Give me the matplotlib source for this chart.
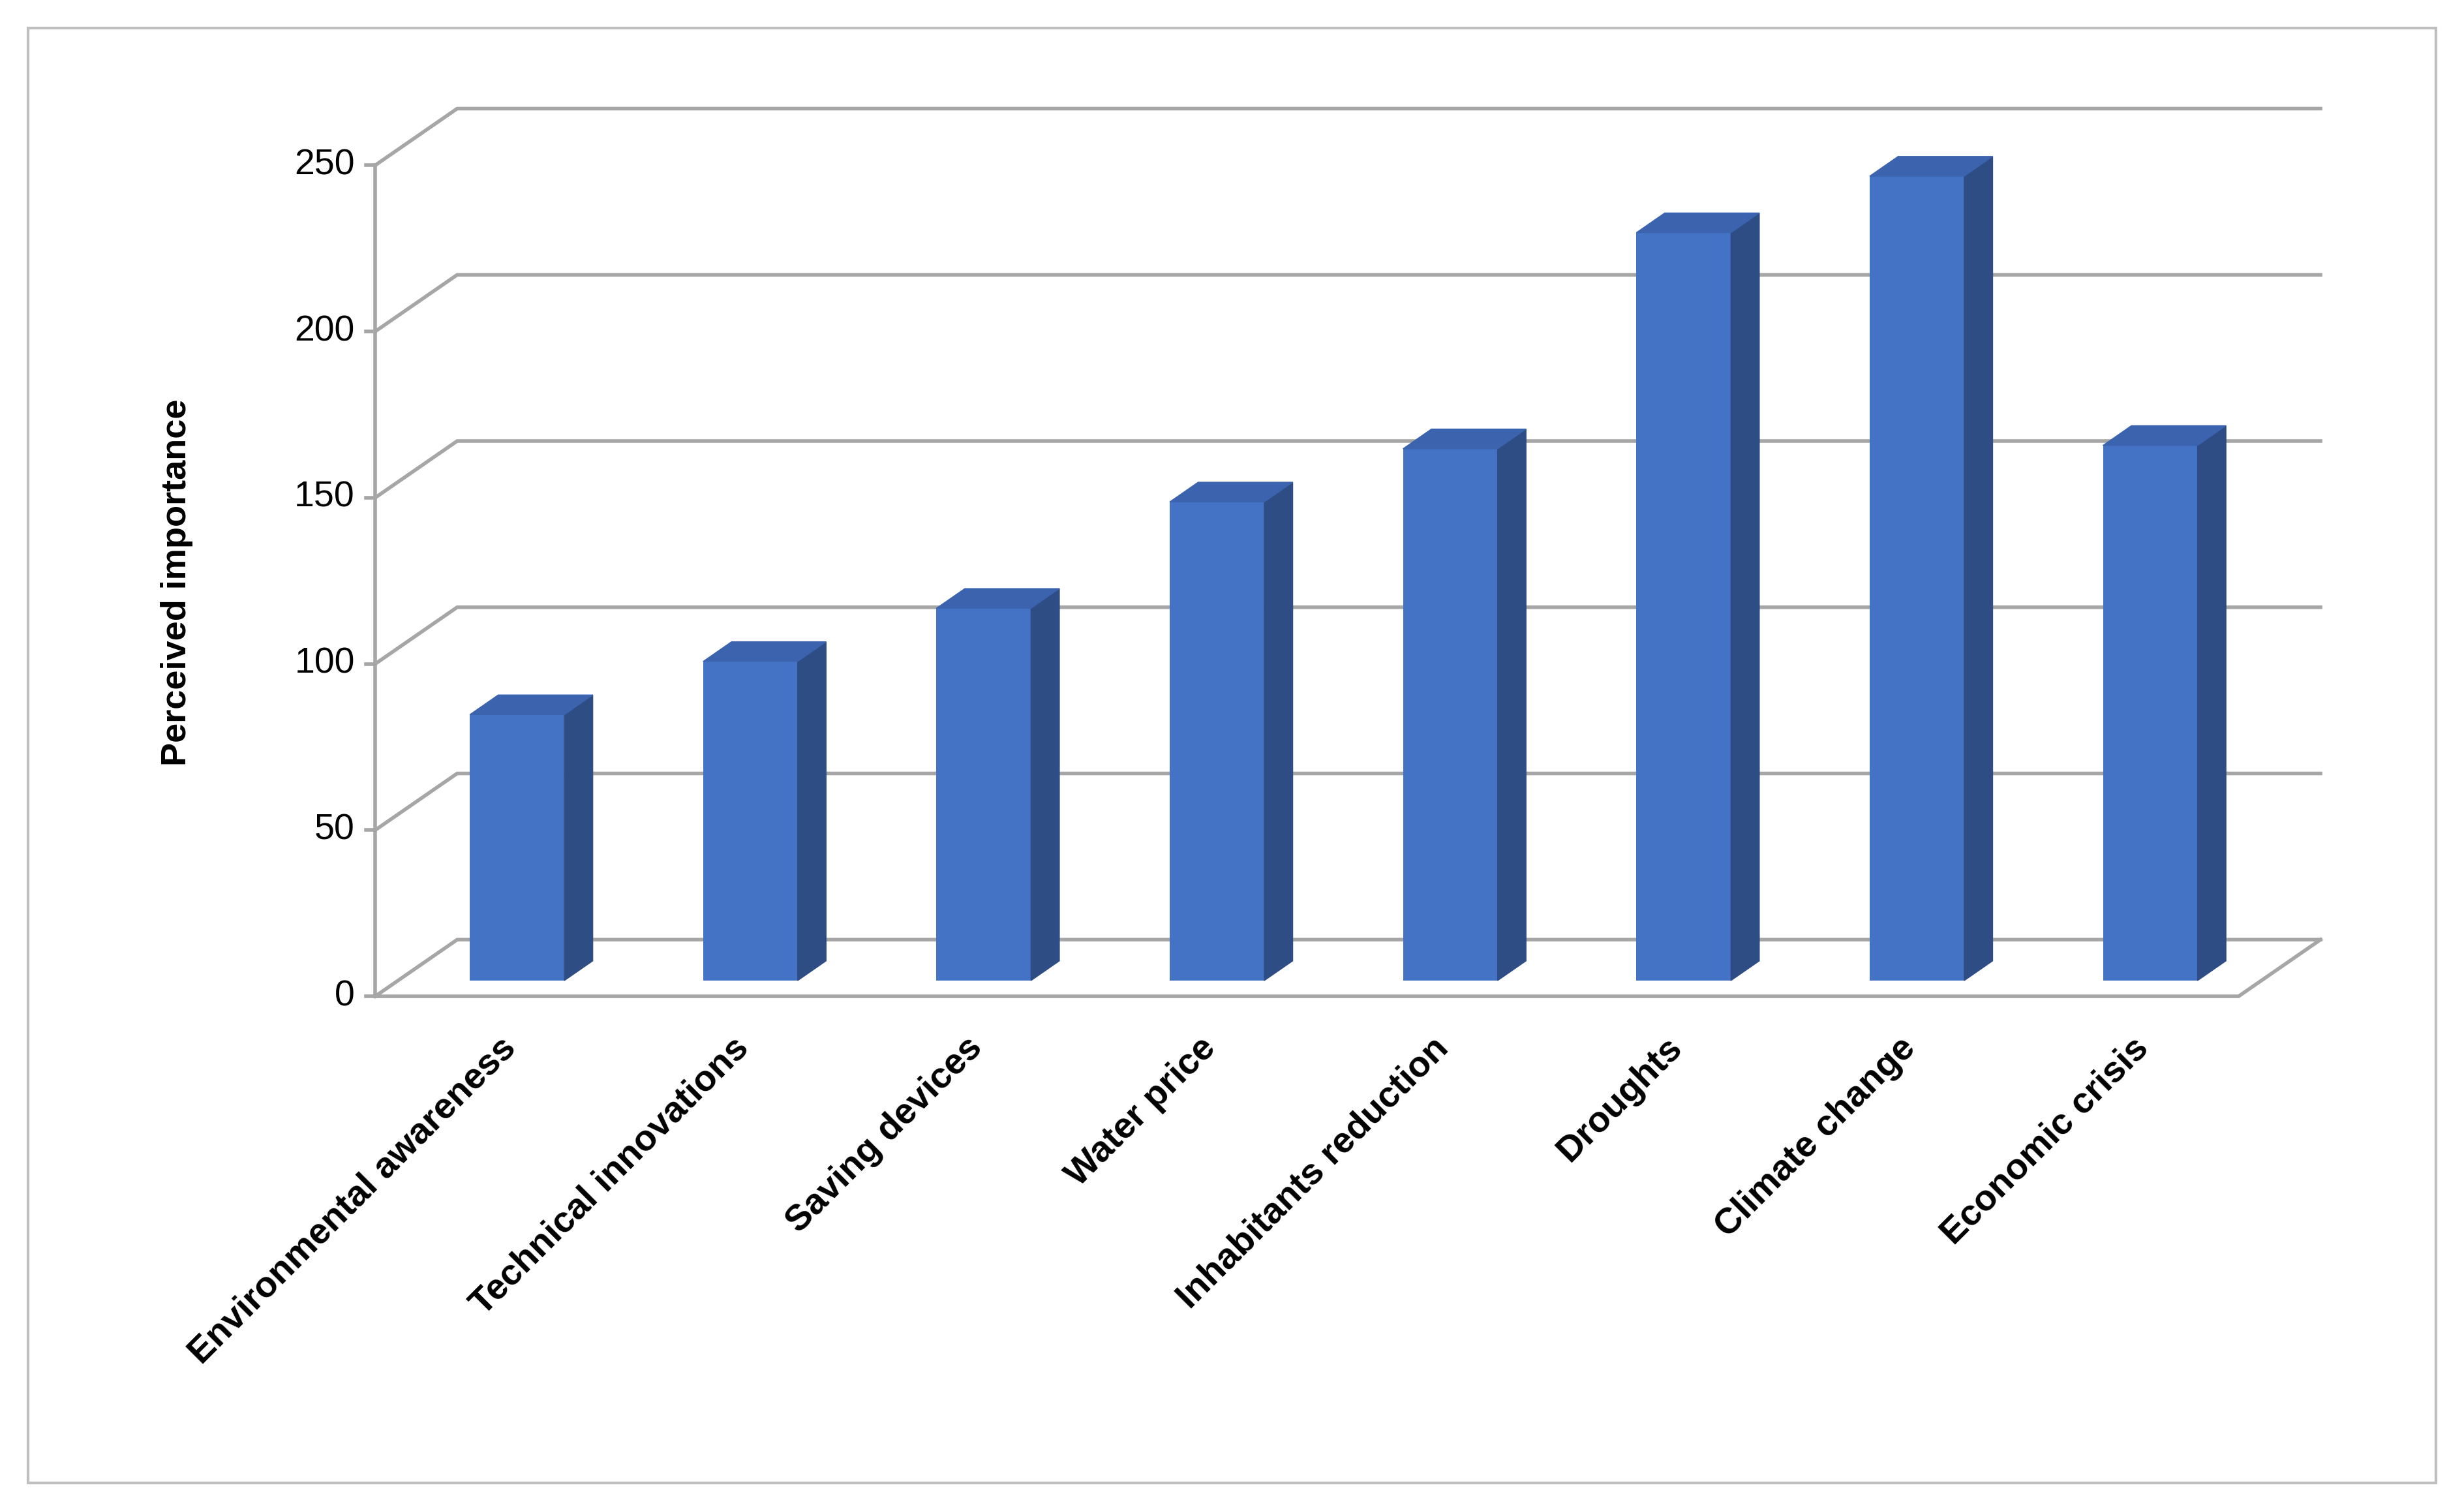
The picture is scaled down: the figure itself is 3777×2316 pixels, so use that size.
import matplotlib
matplotlib.use("Agg")
import matplotlib.pyplot as plt
from matplotlib.patches import Polygon, Rectangle

plt.rcParams['font.family'] = ['Liberation Sans', 'DejaVu Sans']

categories = ["Environmental awareness", "Technical innovations", "Saving devices", "Water price",
              "Inhabitants reduction", "Droughts", "Climate change", "Economic crisis"]
values = [80, 96, 112, 144, 160, 225, 242, 161]
yticks = [0, 50, 100, 150, 200, 250]

W, H = 1563, 960  # reference display units
fig = plt.figure(figsize=(37.77, 23.16), dpi=100)
ax = fig.add_axes([0, 0, 1, 1])
sx, sy = 148.0, 2.112
ax.set_xlim((0 - 328) / sx, (W - 328) / sx)
ax.set_ylim((633 - H) / sy, 633 / sy)
ax.axis("off")

grid = "#A6A6A6"
lw = 4
x0 = (238 - 328) / sx
x1 = (1420 - 328) / sx
ddx, ddy = 52 / sx, 36 / sy
for t in yticks:
    ax.plot([x0, x0 + ddx, x1 + ddx], [t, t + ddy, t + ddy], color=grid, lw=lw, zorder=1)
ax.plot([x0, x1, x1 + ddx], [0, 0, ddy], color=grid, lw=lw, zorder=1)
ax.plot([x0, x0], [0, 250], color=grid, lw=lw, zorder=1)
for t in yticks:
    ax.plot([x0 - 6 / sx, x0], [t, t], color=grid, lw=lw, zorder=1)
    ax.text(x0 - 13 / sx, t, str(t), ha="right", va="center", fontsize=40, color="black")

bw = 60 / sx
fb = 10 / sy
bdx, bdy = 18 / sx, 12.5 / sy
front, side, top = "#4472C4", "#2E4D85", "#3B63AE"
for i, v in enumerate(values):
    l, r = i - bw / 2, i + bw / 2
    ax.bar(i, v, bottom=fb, width=bw, color=front, zorder=3)
    ax.add_patch(Polygon([(r, fb), (r + bdx, fb + bdy), (r + bdx, fb + v + bdy), (r, fb + v)],
                         closed=True, color=side, zorder=3))
    ax.add_patch(Polygon([(l, fb + v), (r, fb + v), (r + bdx, fb + v + bdy), (l + bdx, fb + v + bdy)],
                         closed=True, color=top, zorder=3))
    ax.text(i - 0.08, (633 - 655) / sy, categories[i], rotation=45, rotation_mode="anchor",
            ha="right", va="top", fontsize=40, fontweight="bold")

ax.text((112 - 328) / sx, (633 - 370) / sy, "Perceived importance", rotation=90,
        ha="center", va="center", fontsize=39, fontweight="bold")

ax.add_patch(Rectangle(((18 - 328) / sx, (633 - 942) / sy), (1545 - 18) / sx, (942 - 18) / sy,
                       fill=False, edgecolor="#BFBFBF", lw=3, zorder=0))

fig.savefig("out.png", dpi=100, facecolor="white")
